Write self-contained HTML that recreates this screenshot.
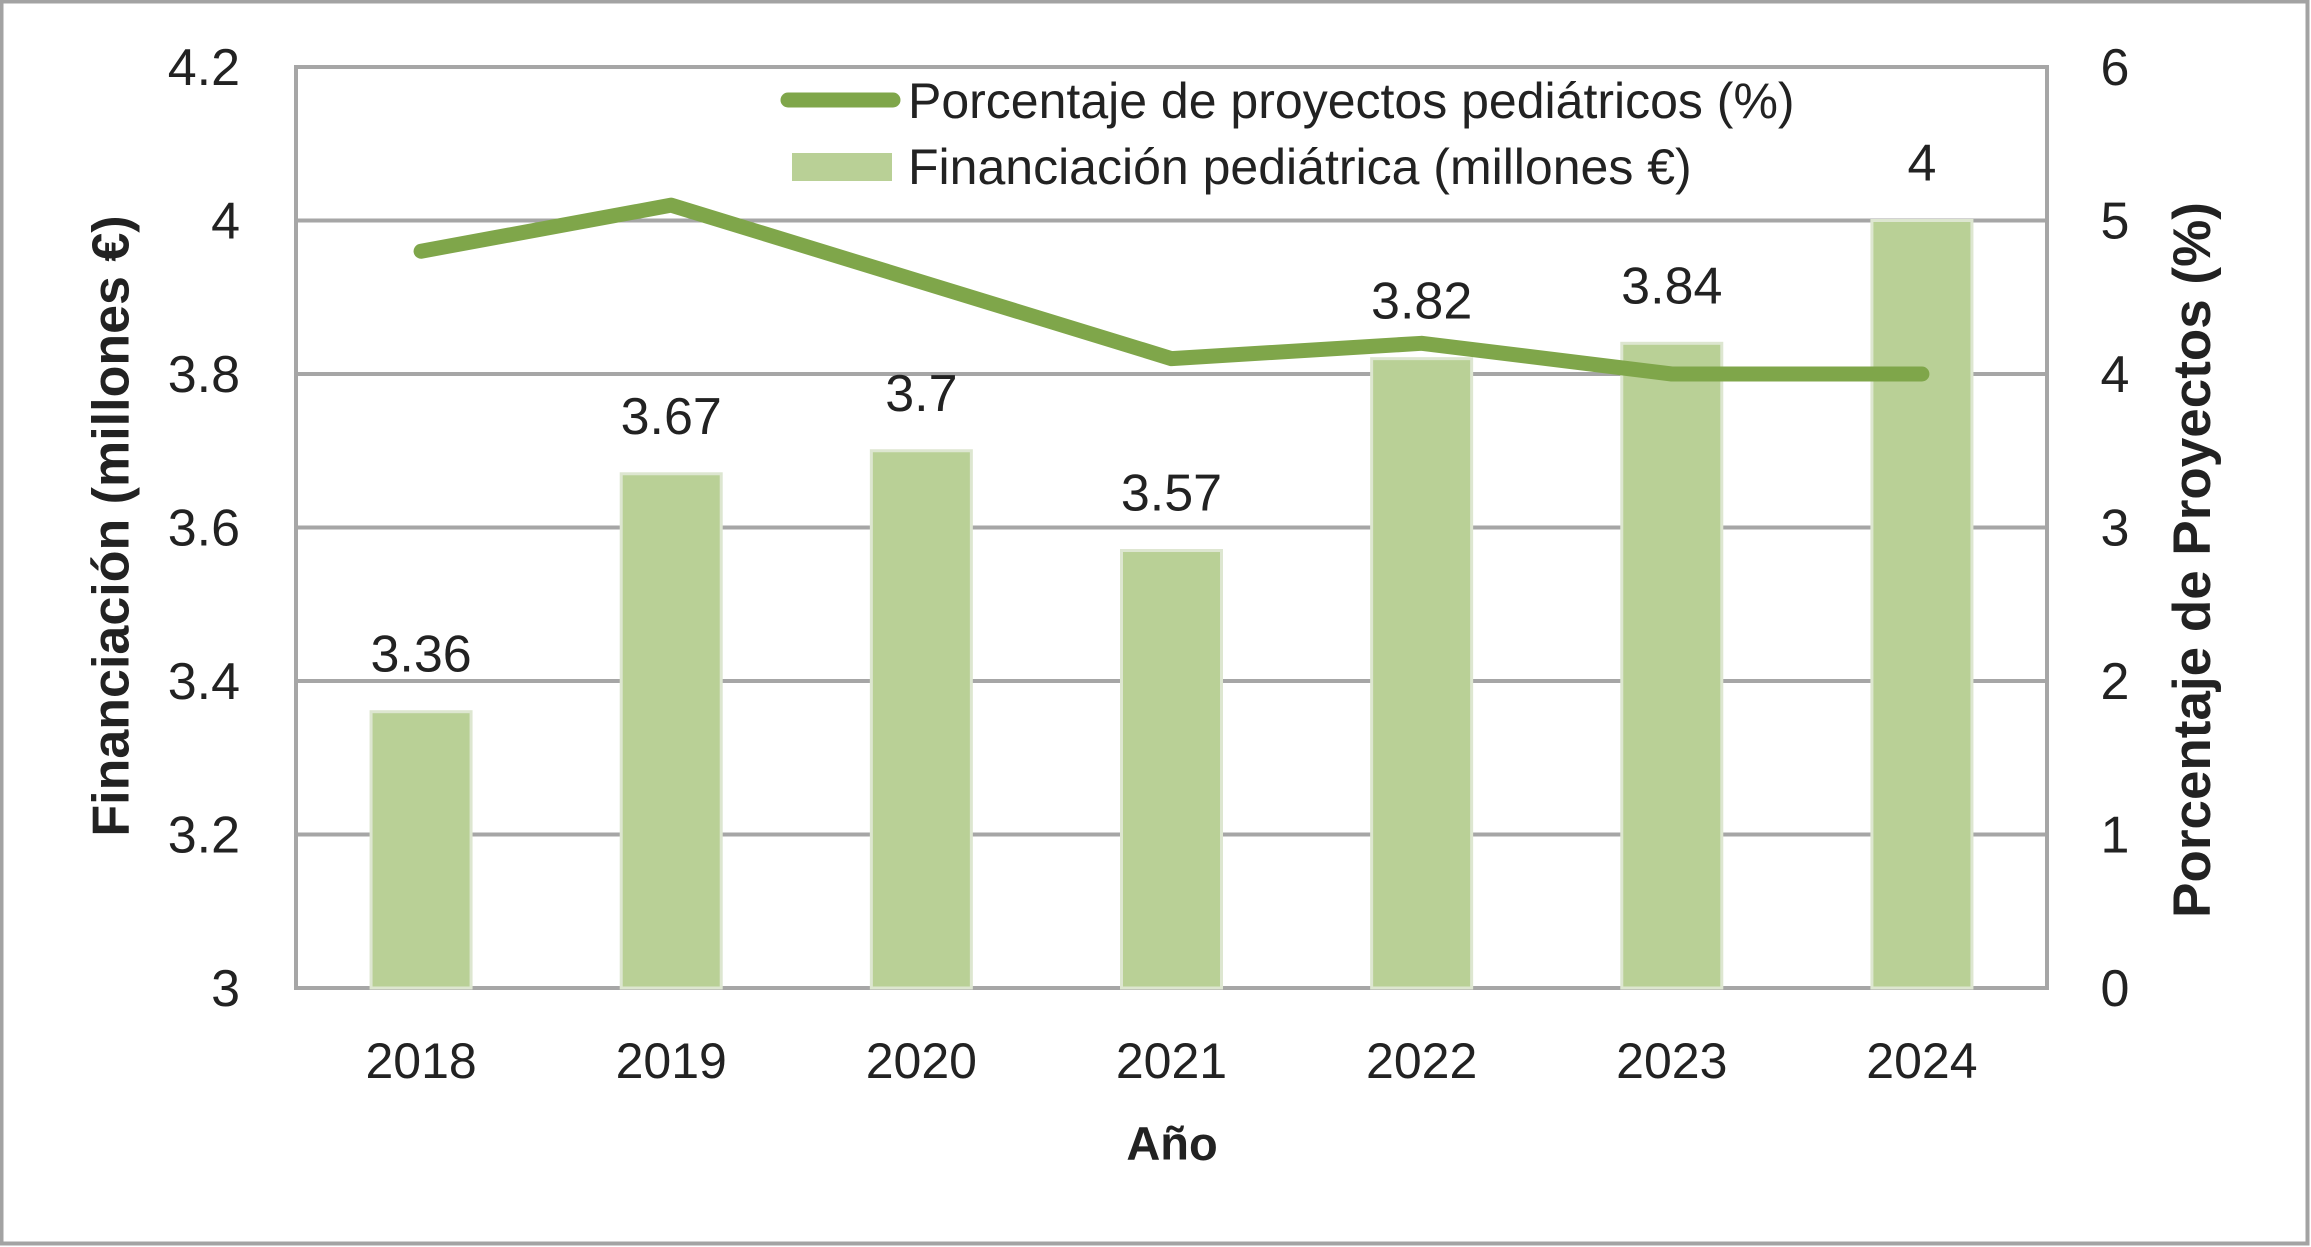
<!DOCTYPE html>
<html><head><meta charset="utf-8"><style>
html,body{margin:0;padding:0;background:#fff}
svg{display:block;font-family:"Liberation Sans",sans-serif}
</style></head><body>
<svg id="chart" width="2311" height="1247" xmlns="http://www.w3.org/2000/svg">
<rect x="1.5" y="1.5" width="2306" height="1242" fill="#fff" stroke="#a3a3a3" stroke-width="4"/>
<g id="grid"></g><g id="bars"></g><g id="line"></g><g id="labels"></g>
<text x="115" y="526" transform="rotate(-90 115 526)" text-anchor="middle" dominant-baseline="middle" font-size="52" font-weight="bold" fill="#222">Financiación (millones €)</text>
<text x="2196" y="560" transform="rotate(-90 2196 560)" text-anchor="middle" dominant-baseline="middle" font-size="53" font-weight="bold" fill="#222">Porcentaje de Proyectos (%)</text>
<text x="1172" y="1160" text-anchor="middle" font-size="47" font-weight="bold" fill="#222">Año</text>
<g>
<line x1="788" y1="100" x2="893" y2="100" stroke="#7fa64a" stroke-width="15" stroke-linecap="round"/>
<text x="908" y="118" font-size="50" fill="#222">Porcentaje de proyectos pediátricos (%)</text>
<rect x="792" y="153" width="100" height="28" fill="#b9d096"/>
<text x="908" y="184" font-size="50" fill="#222">Financiación pediátrica (millones €)</text>
</g>
</svg>
<script>
const categories=["2018","2019","2020","2021","2022","2023","2024"];
const funding=[3.36,3.67,3.7,3.57,3.82,3.84,4];
const fundingLabels=["3.36","3.67","3.7","3.57","3.82","3.84","4"];
const percent=[4.8,5.1,4.6,4.1,4.2,4.0,4.0];
const leftTicks=[3,3.2,3.4,3.6,3.8,4,4.2];
const leftTickLabels=["3","3.2","3.4","3.6","3.8","4","4.2"];
const rightTicks=[0,1,2,3,4,5,6];
const X0=296,X1=2047,Y0=67,Y1=988;
const yL=v=>Y1-(v-3)/1.2*(Y1-Y0);
const yR=v=>Y1-v/6*(Y1-Y0);
const bw=(X1-X0)/categories.length;
const xC=i=>X0+bw*(i+0.5);
const NS="http://www.w3.org/2000/svg";
function mk(p,t,a){const e=document.createElementNS(NS,t);for(const k in a)e.setAttribute(k,a[k]);document.getElementById(p).appendChild(e);return e;}
leftTicks.forEach((v,i)=>{
 const g=mk("grid","line",{x1:X0,x2:X1,y1:yL(v),y2:yL(v),stroke:"#a6a6a6","stroke-width":4});
 
 
 const t=mk("labels","text",{x:240,y:yL(v)+18,"text-anchor":"end","font-size":52,fill:"#222"});
 t.textContent=leftTickLabels[i];
 
 
});
rightTicks.forEach(v=>{
 const t=mk("labels","text",{x:2115,y:yR(v)+18,"text-anchor":"middle","font-size":52,fill:"#222"});
 t.textContent=String(v);
 
 
});
const ax=mk("grid","rect",{x:X0,y:Y0,width:X1-X0,height:Y1-Y0,fill:"none",stroke:"#a6a6a6","stroke-width":4});


categories.forEach((c,i)=>{
 const top=yL(funding[i]);
 const b=mk("bars","rect",{x:xC(i)-50,y:top,width:100,height:Y1-top,fill:"#b9d096",stroke:"#dde6d0","stroke-width":3});
 
 
 const l=mk("labels","text",{x:xC(i),y:top-40,"text-anchor":"middle","font-size":52,fill:"#222"});
 l.textContent=fundingLabels[i];
 
 
 const xl=mk("labels","text",{x:xC(i),y:1078,"text-anchor":"middle","font-size":50,fill:"#222"});
 xl.textContent=c;
 
 
});
const pl=mk("line","polyline",{points:percent.map((v,i)=>xC(i)+","+yR(v)).join(" "),fill:"none",stroke:"#7fa64a","stroke-width":15,"stroke-linecap":"round","stroke-linejoin":"round"});


</script>
</body></html>
